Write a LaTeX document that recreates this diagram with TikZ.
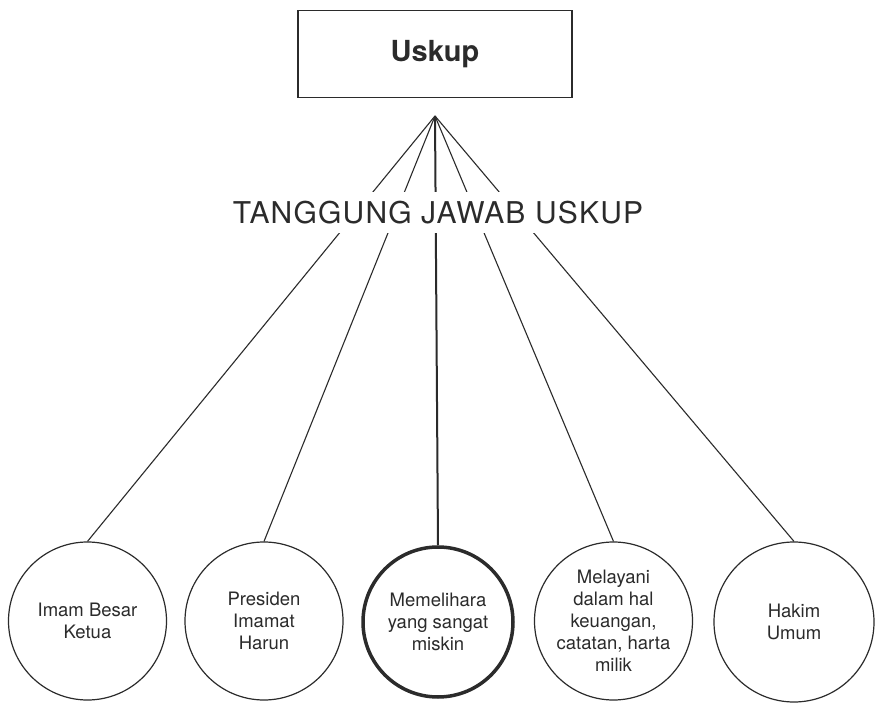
\documentclass[tikz,border=0pt]{standalone}
\usepackage{fontspec}
\setmainfont{TeX Gyre Heros}
\newfontfamily\titlefont[LetterSpace=4]{TeX Gyre Heros}
\definecolor{ink}{HTML}{2B2B2B}
\begin{document}
\begin{tikzpicture}[x=1pt,y=-1pt,
  conn/.style={draw=ink,line width=1.1pt},
  roundbox/.style={circle,draw=ink,line width=1.2pt,minimum size=158pt,inner sep=0pt,align=center,
     text=ink,font=\fontsize{18.5}{22}\selectfont},
  ]
\useasboundingbox (0,0) rectangle (879,703);
\fill[white] (0,0) rectangle (879,703);
\node[draw=ink,line width=1.3pt,minimum width=274pt,minimum height=87pt,inner sep=0pt,
  font=\fontsize{29}{33}\selectfont\bfseries,text=ink] (uskup) at (435,54) {Uskup};
\coordinate (apex) at (435,116);
\node[roundbox] (c1) at (87.5,621) {Imam Besar\\Ketua};
\node[roundbox] (c2) at (264,621) {Presiden\\Imamat\\Harun};
\node[roundbox,line width=3.5pt,minimum size=150pt] (c3) at (438,622) {Memelihara\\yang sangat\\miskin};
\node[roundbox] (c4) at (613.5,621) {Melayani\\dalam hal\\keuangan,\\catatan, harta\\milik};
\node[roundbox,minimum size=160pt] (c5) at (794,622) {Hakim\\Umum};
\draw[conn] (apex) -- (c1.north);
\draw[conn] (apex) -- (c2.north);
\draw[conn,line width=2pt] (apex) -- (c3.north);
\draw[conn] (apex) -- (c4.north);
\draw[conn] (apex) -- (c5.north);
\node[fill=white,text=ink,inner xsep=4pt,inner ysep=10pt,text height=21pt,text depth=0pt,
  font=\titlefont\fontsize{30}{34}\selectfont] (title) at (438,213) {TANGGUNG JAWAB USKUP};
\end{tikzpicture}
\end{document}
